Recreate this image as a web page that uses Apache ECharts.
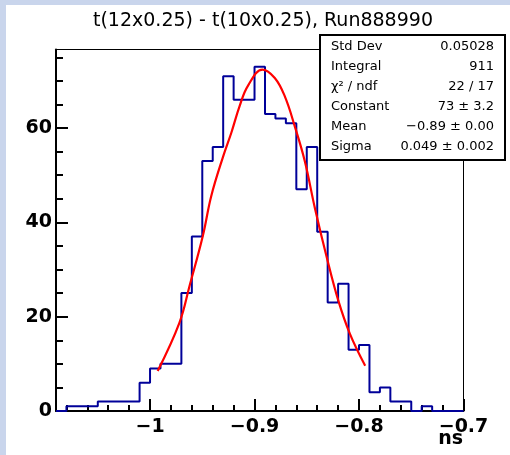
<!DOCTYPE html>
<html><head><meta charset="utf-8">
<script src="https://cdn.jsdelivr.net/npm/echarts@6/dist/echarts.min.js"></script>
<style>html,body{margin:0;padding:0;background:#fff}#c{width:510px;height:455px}</style>
</head><body><div id="c"></div>
<script>
const titleText = 't(12x0.25) - t(10x0.25), Run888990';
const xTitle = 'ns';
const xMin = -1.09, xMax = -0.7, binWidth = 0.01;
const counts = [0,1,1,1,2,2,2,2,6,9,10,10,25,37,53,56,71,66,66,73,63,62,61,47,56,38,23,27,13,14,4,5,2,2,0,1,0,0,0];
const fitX = [-0.9927,-0.9719,-0.9622,-0.9495,-0.9414,-0.9300,-0.9222,-0.9142,-0.9062,-0.8924,-0.8806,-0.8710,-0.8614,-0.8518,-0.8422,-0.8309,-0.8198,-0.8086,-0.7941];
const fitY = [8.5,18.7,26.5,37.1,45.6,54.0,59.0,64.7,69.0,72.4,70.6,66.7,60.3,52.9,43.0,32.6,23.4,16.3,9.6];
const xMajor = [-1,-0.9,-0.8,-0.7];
const xMinor = [-1.08,-1.06,-1.04,-1.02,-0.98,-0.96,-0.94,-0.92,-0.88,-0.86,-0.84,-0.82,-0.78,-0.76,-0.74,-0.72];
const yMax = 76.65;
const yMajor = [0,20,40,60];
const yMinor = [5,10,15,25,30,35,45,50,55,65,70,75];
const statsNames = ['Std Dev','Integral','χ² / ndf','Constant','Mean','Sigma'];
const statsValues = ['0.05028','911','22 / 17','73 ± 3.2','−0.89 ± 0.00','0.049 ± 0.002'];

const hist = counts.map((c,i)=>[+(xMin+i*binWidth).toFixed(2), c]);
hist.push([xMax, counts[counts.length-1]]);
const fit = fitX.map((x,i)=>[x, fitY[i]]);

const FONT = 'DejaVu Sans';
const fmt = v => v < 0 ? '\u2212' + String(Math.abs(v)) : String(v);

const statsGraphics = [{
  type:'rect', z:100, shape:{x:320,y:35,width:185,height:125},
  style:{fill:'#fff', stroke:'#000', lineWidth:2}
}];
statsNames.forEach((n,i)=>{
  statsGraphics.push({type:'text', z:101, style:{text:n, x:331, y:46.7+20*i, fill:'#000',
    font:'13px "DejaVu Sans"', textAlign:'left', textVerticalAlign:'middle'}});
  statsGraphics.push({type:'text', z:101, style:{text:statsValues[i], x:494, y:46.7+20*i, fill:'#000',
    font:'13px "DejaVu Sans"', textAlign:'right', textVerticalAlign:'middle'}});
});

const chart = echarts.init(document.getElementById('c'), null, {renderer:'canvas'});
chart.setOption({
  animation:false,
  backgroundColor:'#fff',
  title:{text:titleText, left:88, top:7, textStyle:{fontFamily:FONT, fontWeight:'normal', fontSize:19, color:'#000'}},
  grid:{left:56, right:46.5, top:49.5, bottom:44, show:true, borderColor:'#000', borderWidth:1, backgroundColor:'transparent'},
  xAxis:[{
    type:'value', min:xMin, max:xMax, position:'bottom',
    axisLine:{lineStyle:{color:'#000', width:2}},
    axisTick:{customValues:xMajor, inside:true, length:12, lineStyle:{color:'#000', width:2}},
    axisLabel:{customValues:xMajor, formatter:fmt, margin:7, fontFamily:FONT, fontWeight:'bold', fontSize:19, color:'#000'},
    splitLine:{show:false}
  },{
    type:'value', min:xMin, max:xMax, position:'bottom', offset:0,
    axisLine:{show:false},
    axisTick:{customValues:xMinor, inside:true, length:6, lineStyle:{color:'#000', width:2}},
    axisLabel:{show:false}, splitLine:{show:false}
  }],
  yAxis:[{
    type:'value', min:0, max:yMax, position:'left',
    axisLine:{show:true, lineStyle:{color:'#000', width:2}},
    axisTick:{show:true, customValues:yMajor, inside:true, length:12, lineStyle:{color:'#000', width:2}},
    axisLabel:{customValues:yMajor, margin:4, fontFamily:FONT, fontWeight:'bold', fontSize:19, color:'#000'},
    splitLine:{show:false}
  },{
    type:'value', min:0, max:yMax, position:'left', offset:0,
    axisLine:{show:false},
    axisTick:{show:true, customValues:yMinor, inside:true, length:7, lineStyle:{color:'#000', width:2}},
    axisLabel:{show:false}, splitLine:{show:false}
  }],
  series:[{
    type:'line', step:'end', data:hist, showSymbol:false, symbol:'none',
    lineStyle:{color:'#000099', width:2}, z:3
  },{
    type:'line', data:fit, smooth:0.4, showSymbol:false, symbol:'none',
    lineStyle:{color:'#ff0000', width:2.2}, z:4
  }],
  graphic:[
    {type:'rect', z:0, shape:{x:0,y:0,width:510,height:5}, style:{fill:'#c9d5ec'}},
    {type:'rect', z:0, shape:{x:0,y:0,width:6,height:455}, style:{fill:'#c9d5ec'}},
    {type:'text', z:10, style:{text:xTitle, x:463, y:439.5, fill:'#000', font:'bold 19px "DejaVu Sans"', textAlign:'right', textVerticalAlign:'middle'}}
  ].concat(statsGraphics)
});
</script></body></html>
